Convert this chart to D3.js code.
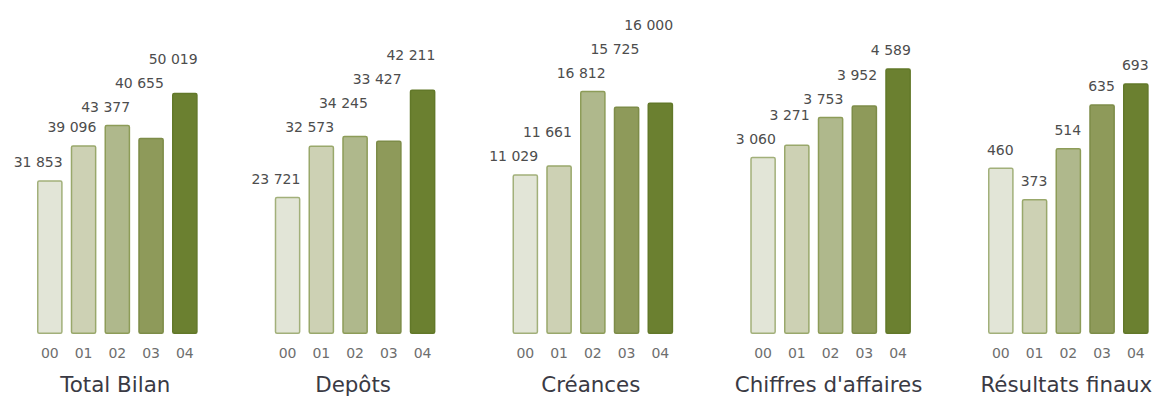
<!DOCTYPE html>
<html>
<head>
<meta charset="utf-8">
<script src="https://cdn.jsdelivr.net/npm/d3@7"></script>
<style>
  html, body { margin: 0; padding: 0; background: #ffffff; }
  svg { display: block; }
</style>
</head>
<body>
<svg id="chart" width="1153" height="396"></svg>
<script>
// Key figures, years 2000–2004
const years = ["00", "01", "02", "03", "04"];
const titles = ["Total Bilan", "Depôts", "Créances", "Chiffres d'affaires", "Résultats finaux"];
const totalBilan = [31853, 39096, 43377, 40655, 50019];
const depots = [23721, 32573, 34245, 33427, 42211];
const creances = [11029, 11661, 16812, 15725, 16000];
const chiffresAffaires = [3060, 3271, 3753, 3952, 4589];
const resultatsFinaux = [460, 373, 514, 635, 693];

const series = [totalBilan, depots, creances, chiffresAffaires, resultatsFinaux];

// one shade per year, from pale to deep olive
const fills = ["#e2e5d7", "#cdd1b4", "#afb88c", "#8e9a5a", "#6b8030"];
const strokes = ["#a2b07a", "#99a86b", "#8d9c58", "#7d8c48", "#627829"];

const fmt = d3.formatLocale({ decimal: ",", thousands: "\u00a0", grouping: [3], currency: ["", ""] }).format(",d");

const svg = d3.select("#chart");
const baseY = 334, topY = 44.5;
const panelStep = 237.75;
const barStep = 33.75;
const labelGap = 13;    // space between a bar top and its label baseline
const labelStep = 24;   // vertical step when a label is lifted over its neighbour

const panelX = d3.scaleBand()
  .domain(d3.range(titles.length))
  .range([37, 37 + panelStep * titles.length]);

const x = d3.scaleBand()
  .domain(years)
  .range([0, barStep * years.length - 0.24 * barStep])
  .paddingInner(0.24)
  .paddingOuter(0);

const labelFont = "14px 'DejaVu Sans', Verdana, sans-serif";

series.forEach((values, p) => {
  const g = svg.append("g").attr("transform", `translate(${panelX(p)},0)`);

  const y = d3.scaleLinear()
    .domain([0, d3.max(values)])
    .nice(4)
    .range([baseY, topY]);

  // bars
  g.selectAll("rect")
    .data(values)
    .join("rect")
    .attr("x", (d, i) => x(years[i]) + 0.75)
    .attr("y", d => y(d) + 0.75)
    .attr("width", x.bandwidth() - 1.5)
    .attr("height", d => baseY - y(d) - 1.5)
    .attr("rx", 1.5)
    .attr("fill", (d, i) => fills[i])
    .attr("stroke", (d, i) => strokes[i])
    .attr("stroke-width", 1.5);

  // value labels, right-aligned on each bar; a label that would collide with
  // (or sit below) the previous overlapping label is stacked above it
  const labels = g.selectAll("text.value")
    .data(values)
    .join("text")
    .attr("class", "value")
    .attr("text-anchor", "end")
    .attr("x", (d, i) => x(years[i]) + x.bandwidth())
    .style("font", labelFont)
    .attr("fill", "#4d4d4d")
    .text(d => fmt(d));

  let prev = null;
  labels.each(function (d, i) {
    const right = x(years[i]) + x.bandwidth();
    const left = right - this.getComputedTextLength();
    let base = y(d) - labelGap;
    if (prev && prev.right > left && base > prev.base - 14) {
      base = prev.base - labelStep;
    }
    prev = { right, base };
    d3.select(this).attr("y", base);
  });

  // year labels
  g.selectAll("text.year")
    .data(years)
    .join("text")
    .attr("class", "year")
    .attr("text-anchor", "middle")
    .attr("x", d => x(d) + x.bandwidth() / 2)
    .attr("y", 358)
    .style("font", "14px 'DejaVu Sans', Verdana, sans-serif")
    .attr("fill", "#6e6e6e")
    .text(d => d);

  // panel title
  g.append("text")
    .attr("text-anchor", "middle")
    .attr("x", (x.range()[0] + x.range()[1]) / 2 - 2)
    .attr("y", 392)
    .style("font", "21.4px 'DejaVu Sans', Verdana, sans-serif")
    .attr("fill", "#3a3a44")
    .text(titles[p]);
});
</script>
</body>
</html>
